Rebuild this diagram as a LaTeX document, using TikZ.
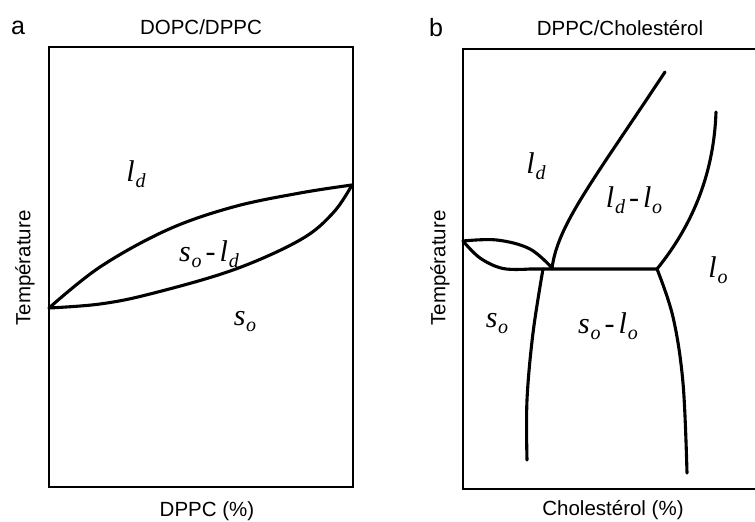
\documentclass[tikz,border=0pt]{standalone}
\usepackage{fontspec}
\setmainfont{Liberation Sans}
\newfontfamily\phfont{Liberation Serif}
\newcommand{\phs}[2]{#1\kern0.8pt\raisebox{-6pt}{\fontsize{20}{21}\selectfont #2}}
\newcommand{\phsep}{\kern4pt{\upshape -}\kern4pt}
\tikzset{
  frame/.style={line width=1.3pt},
  phase/.style={line width=3.1pt, line join=round, line cap=round},
  lbl/.style={font=\fontsize{20.5}{23}\selectfont, inner sep=0pt},
  tag/.style={font=\fontsize{25}{28}\selectfont, inner sep=0pt},
  ph/.style={font=\fontsize{30}{34}\selectfont\phfont\itshape, inner sep=0pt},
}
\begin{document}
\begin{tikzpicture}[x=1pt,y=-1pt]
\useasboundingbox (0,0) rectangle (755,522);
% ---------- panel a ----------
\node[tag] (la) at (18,28) {a};
\node[lbl] (ta) at (201,27) {DOPC/DPPC};
\node[lbl, rotate=90] (ya) at (25,268) {Température};
\node[lbl] (xa) at (207,511) {DPPC (\%)};
\draw[frame] (49,47) rectangle (353,487);
\coordinate (aL) at (49,308);
\coordinate (aR) at (352,185);
\draw[phase] plot[smooth, tension=0.6] coordinates {(aL) (100,267) (167,230) (233,207) (300,193) (aR)};
\draw[phase] plot[smooth, tension=0.6] coordinates {(aL) (100,304) (150,294) (233,270) (300,240) (333,213) (aR)};
\node[ph] (a1) at (136,174) {\phs{l}{d}};
\node[ph] (a2) at (209,254) {\phs{s}{o}\phsep\phs{l}{d}};
\node[ph] (a3) at (245,322) {\phs{s}{o}};
% ---------- panel b ----------
\node[tag] (lb) at (436,28) {b};
\node[lbl] (tb) at (620,28) {DPPC/Cholestérol};
\node[lbl, rotate=90] (yb) at (440,268) {Température};
\node[lbl] (xb) at (613,510) {Cholestérol (\%)};
\draw[frame] (756,49) -- (463,49) -- (463,489) -- (756,489);
\coordinate (bL) at (463,241);
\coordinate (bA) at (543,269);
\coordinate (bB) at (657,269);
\coordinate (bC) at (552,268);
\draw[phase] plot[smooth, tension=0.6] coordinates {(bL) (497,240) (530,249) (553,269)};
\draw[phase] plot[smooth, tension=0.6] coordinates {(bL) (480,258) (503,268.5) (530,269)} -- (bB);
\draw[phase] (bC) .. controls (558,225) and (590,185) .. (665,72);
\draw[phase] (bB) .. controls (695,222) and (714,170) .. (716,112);
\draw[phase] plot[smooth, tension=0.6] coordinates {(bA) (533,333) (527,400) (527,460)};
\draw[phase] plot[smooth, tension=0.6] coordinates {(bB) (673,317) (683,383) (687,473)};
\node[ph] (b1) at (536,166) {\phs{l}{d}};
\node[ph] (b2) at (634,200) {\phs{l}{d}\phsep\phs{l}{o}};
\node[ph] (b3) at (718,270) {\phs{l}{o}};
\node[ph] (b4) at (497,324) {\phs{s}{o}};
\node[ph] (b5) at (608,326) {\phs{s}{o}\phsep\phs{l}{o}};
\end{tikzpicture}
\end{document}
